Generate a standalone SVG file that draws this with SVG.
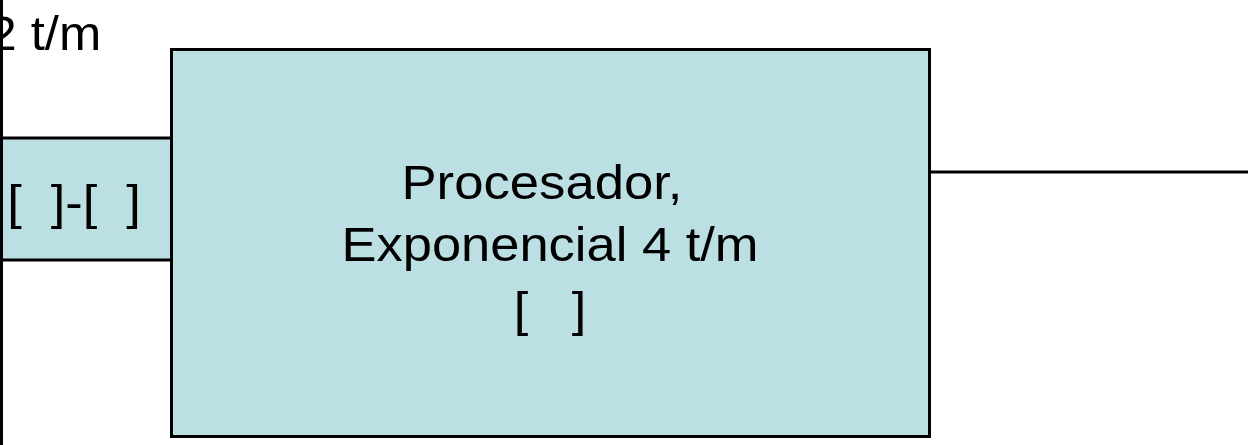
<svg xmlns="http://www.w3.org/2000/svg" width="1259" height="445" viewBox="0 0 1259 445">
  <style>
    .box { fill: #bbdfe2; stroke: #000; stroke-width: 3; }
    .wire { stroke: #000; stroke-width: 3; fill: none; }
    .lbl { font-family: "Liberation Sans", Arial, sans-serif; font-size: 48px; fill: #000; white-space: pre; }
  </style>
  <rect width="1259" height="445" fill="#fff"/>
  <g id="connectors">
    <line class="wire" x1="1.5" y1="0" x2="1.5" y2="445"/>
    <line class="wire" x1="930" y1="172" x2="1248" y2="172"/>
  </g>
  <g id="rate-label">
    <text class="lbl" xml:space="preserve" x="-11.5" y="50" textLength="112.7" lengthAdjust="spacingAndGlyphs">2 t/m</text>
  </g>
  <g id="queue">
    <rect class="box" x="1.5" y="138" width="170" height="122"/>
    <text class="lbl" xml:space="preserve" x="74" y="219" text-anchor="middle" textLength="133.7" lengthAdjust="spacingAndGlyphs">[  ]-[  ]</text>
  </g>
  <g id="processor">
    <rect class="box" x="171.5" y="49.5" width="758" height="387"/>
    <text class="lbl" xml:space="preserve" x="542" y="198.5" text-anchor="middle" textLength="281" lengthAdjust="spacingAndGlyphs">Procesador,</text>
    <text class="lbl" xml:space="preserve" x="550" y="261" text-anchor="middle" textLength="417" lengthAdjust="spacingAndGlyphs">Exponencial 4 t/m</text>
    <text class="lbl" xml:space="preserve" x="550" y="326" text-anchor="middle" textLength="72.7" lengthAdjust="spacingAndGlyphs">[   ]</text>
  </g>
</svg>
